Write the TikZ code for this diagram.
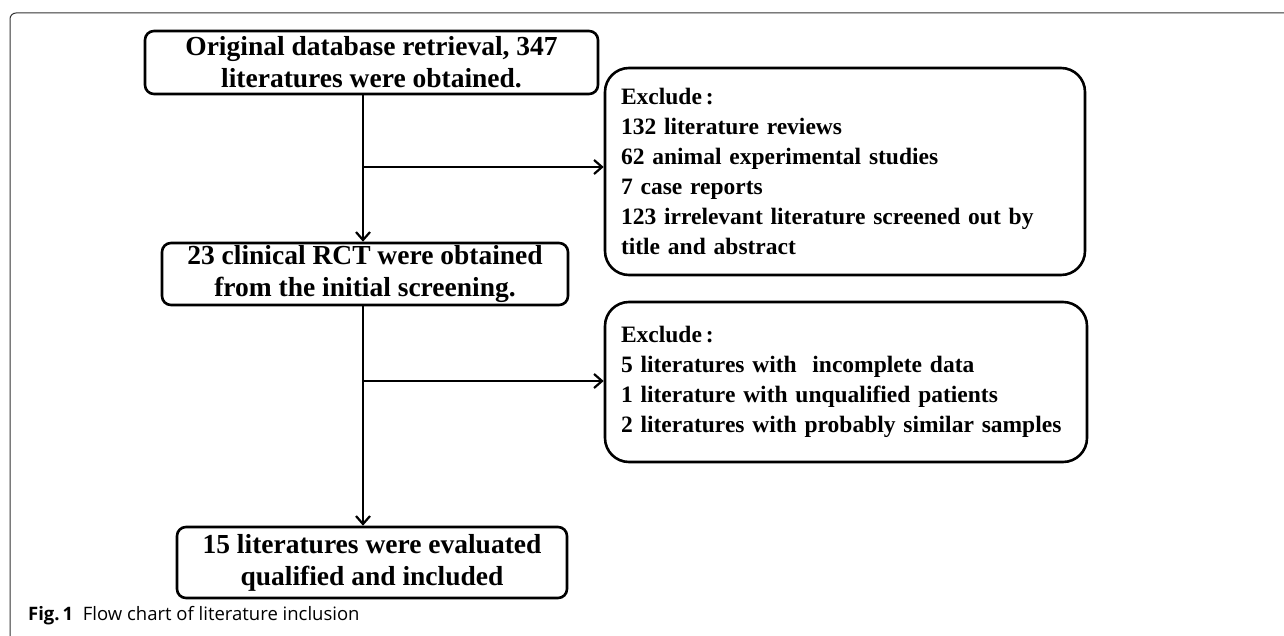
\documentclass[tikz,border=0pt]{standalone}
\usepackage{fontspec}
\setmainfont{Liberation Serif}
\newfontfamily\capfont{Open Sans}
\usetikzlibrary{arrows.meta}
\tikzset{
  stepbox/.style={draw, line width=2.6pt, rounded corners=9pt, align=center, inner sep=0pt,
    font=\bfseries\fontsize{27.5}{32}\selectfont},
  exclbox/.style={draw, line width=2.6pt, rounded corners=24pt, align=left, inner xsep=16pt, inner ysep=0pt,
    font=\bfseries\fontsize{23.5}{30}\selectfont}
}
\begin{document}
\begin{tikzpicture}[x=1pt, y=-1pt, line width=2.2pt, >={Straight Barb[length=8pt, width=14pt]}]
  \useasboundingbox (0,0) rectangle (1284,636);
  \draw[line width=1pt, draw=black!80, rounded corners=6pt] (10,636) -- (10,13) -- (1284,13);

  \node[stepbox, minimum width=453pt, minimum height=63pt] (orig) at (371.5,62.5)
    {Original database retrieval, 347\\literatures were obtained.};
  \node[stepbox, minimum width=406pt, minimum height=62pt] (clin) at (365,274)
    {23 clinical RCT were obtained\\from the initial screening.};
  \node[stepbox, minimum width=390pt, minimum height=71pt] (incl) at (372,562.5)
    {15 literatures were evaluated\\qualified and included};

  \node[exclbox, text width=448pt, minimum height=207pt] (exc1) at (845,171.5)
    {Exclude\thinspace:\\132 literature reviews\\62 animal experimental studies\\7 case reports\\123 irrelevant literature screened out by\\title and abstract};
  \node[exclbox, text width=450pt, minimum height=160pt] (exc2) at (846,382)
    {Exclude\thinspace:\\5 literatures with\ \ incomplete data\\1 literature with unqualified patients\\2 literatures with probably similar samples};

  \coordinate (br1) at (363,167);
  \coordinate (br2) at (363,381);
  \draw[->] (orig.south -| br1) -- (clin.north -| br1);
  \draw[->] (br1) -- (br1 -| exc1.west);
  \draw[->] (clin.south -| br2) -- (incl.north -| br2);
  \draw[->] (br2) -- (br2 -| exc2.west);

  \node[anchor=base west, inner sep=0pt, font=\capfont\fontsize{18.5}{20}\selectfont] (cap) at (27,620)
    {\textbf{Fig.\,1}\ \ Flow chart of literature inclusion};
\end{tikzpicture}
\end{document}
